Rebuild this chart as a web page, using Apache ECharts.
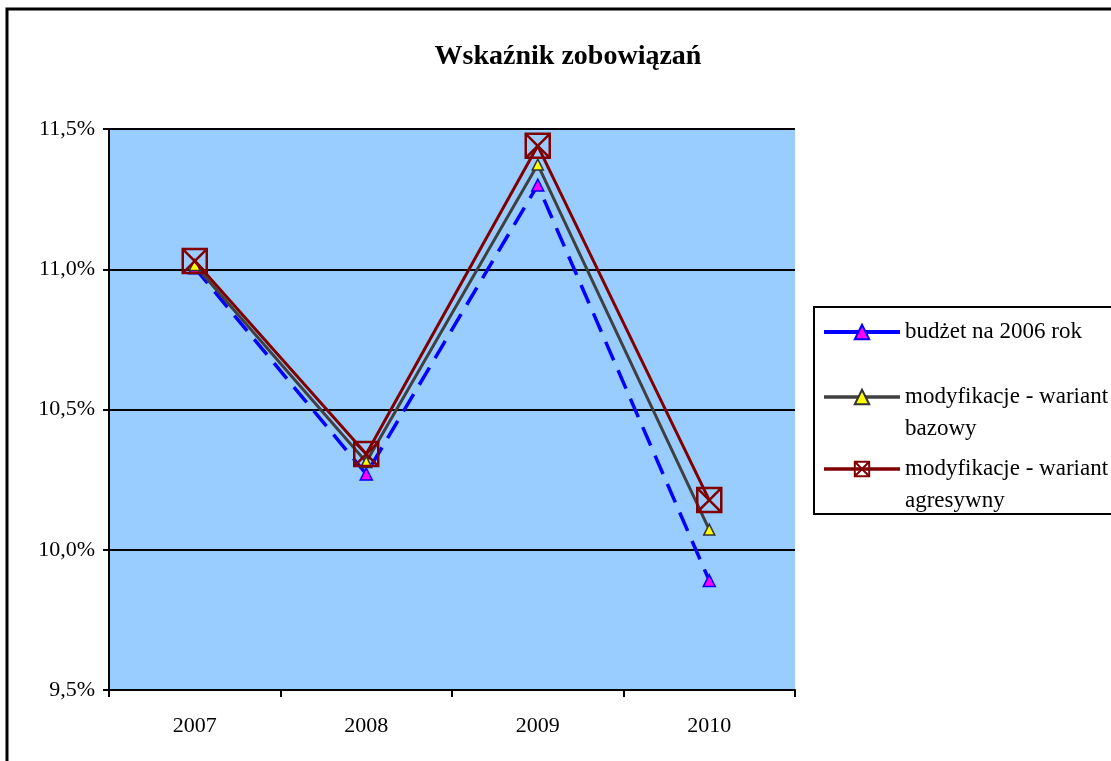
<!DOCTYPE html>
<html><head><meta charset="utf-8">
<script src="https://cdn.jsdelivr.net/npm/echarts@6/dist/echarts.min.js"></script>
<style>html,body{margin:0;padding:0;background:#fff}#c{width:1111px;height:761px}</style>
</head><body><div id="c"></div>
<script>
const titleText = 'Wskaźnik zobowiązań';
const categories = ['2007', '2008', '2009', '2010'];
const seriesNames = ['budżet na 2006 rok', 'modyfikacje - wariant bazowy', 'modyfikacje - wariant agresywny'];
const legendLines = [['budżet na 2006 rok'], ['modyfikacje - wariant', 'bazowy'], ['modyfikacje - wariant', 'agresywny']];
const budzet = [11.005, 10.27, 11.30, 9.89];
const bazowy = [11.015, 10.313, 11.373, 10.072];
const agresywny = [11.029, 10.341, 11.44, 10.177];
const yMin = 9.5, yMax = 11.5, yStep = 0.5;

const FONT = '"Liberation Serif", "Times New Roman", serif';
const chart = echarts.init(document.getElementById('c'), null, {renderer: 'canvas'});
const squareX = 'path://M0 0H20V20H0Z M0 0L20 20 M20 0L0 20';

function legendFormatter(name) {
  const lines = legendLines[seriesNames.indexOf(name)];
  if (lines.length === 1) return '{a|' + lines[0] + '}\n{z| }';
  return '{a|' + lines[0] + '}\n{b|' + lines[1] + '}';
}

chart.setOption({
  animation: false,
  backgroundColor: '#ffffff',
  title: {
    text: titleText, left: 563, top: 38, textAlign: 'center',
    textStyle: {fontFamily: FONT, fontWeight: 'bold', fontSize: 28, color: '#000'}
  },
  graphic: [{
    type: 'rect', shape: {x: 7, y: 9, width: 1300, height: 900},
    style: {fill: 'none', stroke: '#000', lineWidth: 3}, silent: true, z: 100
  }],
  grid: {
    left: 109, top: 129, width: 686, height: 561, show: true,
    backgroundColor: '#99ccff', borderWidth: 0
  },
  legend: {
    orient: 'vertical', left: 814, top: 307,
    padding: [13, 80, 2, 8],
    backgroundColor: '#fff', borderColor: '#000', borderWidth: 2,
    itemWidth: 76, itemHeight: 18, itemGap: 17,
    selectedMode: false,
    formatter: legendFormatter,
    textStyle: {
      fontFamily: FONT, fontSize: 23, color: '#000',
      rich: {
        a: {fontFamily: FONT, fontSize: 23, color: '#000', lineHeight: 41},
        b: {fontFamily: FONT, fontSize: 23, color: '#000', lineHeight: 1, verticalAlign: 'top'},
        z: {fontFamily: FONT, fontSize: 16, color: '#000', lineHeight: 1, verticalAlign: 'top'}
      }
    },
    data: [
      {name: seriesNames[0], lineStyle: {type: 'solid', width: 4, color: '#0000ff'}},
      {name: seriesNames[1], lineStyle: {type: 'solid', width: 3.5, color: '#404040'}},
      {name: seriesNames[2], lineStyle: {type: 'solid', width: 3.5, color: '#800000'}}
    ]
  },
  xAxis: {
    type: 'category', data: categories, boundaryGap: true,
    axisLine: {lineStyle: {color: '#000', width: 2}},
    axisTick: {show: true, length: 7, lineStyle: {color: '#000', width: 2}},
    axisLabel: {fontFamily: FONT, fontSize: 22, color: '#000', margin: 25}
  },
  yAxis: {
    type: 'value', min: yMin, max: yMax, interval: yStep,
    axisLine: {show: true, lineStyle: {color: '#000', width: 2}},
    axisTick: {show: true, length: 6, lineStyle: {color: '#000', width: 2}},
    axisLabel: {
      fontFamily: FONT, fontSize: 22, color: '#000', margin: 14,
      formatter: v => v.toFixed(1).replace('.', ',') + '%'
    },
    splitLine: {show: true, lineStyle: {color: '#000', width: 2}}
  },
  series: [
    {
      name: seriesNames[0], type: 'line', data: budzet,
      lineStyle: {color: '#0000ff', width: 3.5, type: [20, 11]},
      symbol: 'triangle', symbolSize: 12,
      itemStyle: {color: '#ff00ff', borderColor: '#0000ff', borderWidth: 1.5},
      z: 2
    },
    {
      name: seriesNames[1], type: 'line', data: bazowy,
      lineStyle: {color: '#404040', width: 3},
      symbol: 'triangle', symbolSize: 11,
      itemStyle: {color: '#ffff00', borderColor: '#333333', borderWidth: 1.5},
      z: 3
    },
    {
      name: seriesNames[2], type: 'line', data: agresywny,
      lineStyle: {color: '#800000', width: 3},
      symbol: squareX, symbolSize: 24,
      itemStyle: {color: 'rgba(0,0,0,0)', borderColor: '#800000', borderWidth: 2.5},
      z: 4
    }
  ]
});
</script>
</body></html>
